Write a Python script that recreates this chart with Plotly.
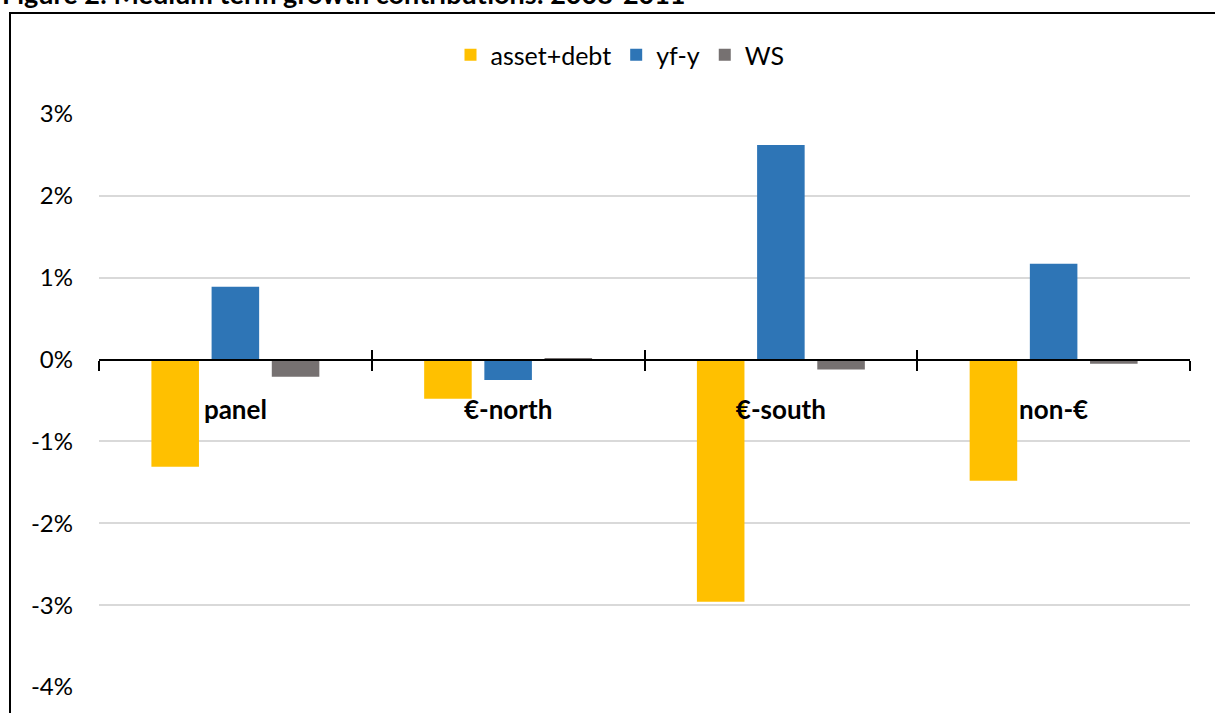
import plotly.graph_objects as go

categories = ["panel", "€-north", "€-south", "non-€"]
asset_debt = [-1.31, -0.48, -2.96, -1.48]
yf_y = [0.89, -0.25, 2.62, 1.17]
ws = [-0.21, 0.02, -0.12, -0.05]
series_names = ["asset+debt", "yf-y", "WS"]
colors = ["#FFC000", "#2E75B6", "#767171"]
y_ticks = [-4, -3, -2, -1, 0, 1, 2, 3]
y_ticktext = [f"{v}%" for v in y_ticks]
title_text = "Figure 2: Medium term growth contributions: 2008-2011"

FONT = "Lato"
W, H = 1215, 713
ml, mr, mt, mb = 99, 25, 114, 26
pw, ph = W - ml - mr, H - mt - mb

def px_x(p):
    return (p - ml) / pw

def px_y(p):
    return (H - mb - p) / ph

fig = go.Figure()
for name, vals, col in zip(series_names, [asset_debt, yf_y, ws], colors):
    fig.add_trace(go.Bar(x=categories, y=vals, name=name, marker_color=col,
                         marker_line_width=0))
fig.add_trace(go.Scatter(x=[], y=[], xaxis="x2", showlegend=False, hoverinfo="skip"))

ymin, ymax = -4, 3
zero_pos = (0 - ymin) / (ymax - ymin)

fig.update_layout(
    width=W, height=H,
    margin=dict(l=ml, r=mr, t=mt, b=mb),
    paper_bgcolor="white", plot_bgcolor="white",
    font=dict(family=FONT, color="black", size=24),
    barmode="group", bargap=0.338, bargroupgap=0.21,
    showlegend=True,
    legend=dict(orientation="h", x=px_x(620), y=px_y(55), xanchor="center", yanchor="middle",
                font=dict(size=25, family=FONT), itemwidth=30, traceorder="normal"),
    xaxis=dict(type="category", anchor="free", position=zero_pos,
               showline=True, linecolor="black", linewidth=2,
               ticks="outside", ticklen=10, tickwidth=2, tickcolor="black",
               tickson="boundaries", showgrid=False, zeroline=False,
               tickfont=dict(size=26, family=FONT, weight="bold"),
               ticklabelstandoff=27),
    xaxis2=dict(type="linear", overlaying="x", anchor="free", position=zero_pos,
                range=[-0.5, len(categories) - 0.5],
                tickvals=[i - 0.5 for i in range(len(categories) + 1)],
                ticks="inside", ticklen=10, tickwidth=2, tickcolor="black",
                showticklabels=False, showline=False, showgrid=False, zeroline=False),
    yaxis=dict(range=[ymin, ymax], tickmode="array", tickvals=y_ticks, ticktext=y_ticktext,
               showgrid=True, gridcolor="#D9D9D9", gridwidth=1.5,
               zeroline=False, showline=False, ticks="",
               tickfont=dict(size=24, family=FONT), ticklabelstandoff=25),
)

fig.add_shape(type="rect", xref="paper", yref="paper",
              x0=px_x(10), x1=px_x(1300), y0=px_y(800), y1=px_y(13),
              line=dict(color="black", width=2), fillcolor="rgba(0,0,0,0)", layer="above")

fig.add_annotation(text="<b>" + title_text + "</b>", xref="paper", yref="paper",
                   x=px_x(0), y=px_y(12), xanchor="left", yanchor="bottom",
                   showarrow=False, font=dict(size=27, family=FONT, color="black"))

fig.write_html("out.html")
